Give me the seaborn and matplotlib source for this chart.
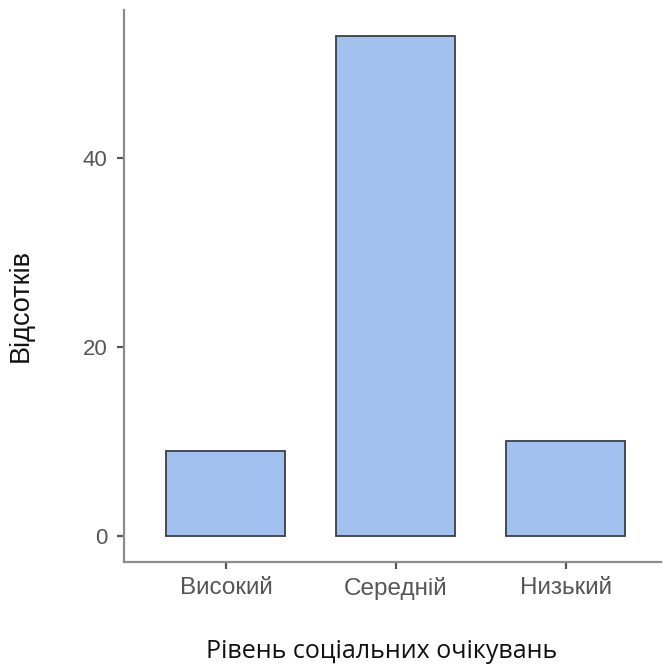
import matplotlib
matplotlib.use("Agg")
import matplotlib.pyplot as plt
import seaborn as sns
import pandas as pd

# --- дані ---
levels = ["Високий", "Середній", "Низький"]
percents = [9.0, 53.0, 10.0]

sns.set_theme(style="ticks")
plt.rcParams['font.family'] = ['Liberation Sans', 'DejaVu Sans']

df = pd.DataFrame({"Рівень": levels, "Відсотків": percents})

fig = plt.figure(figsize=(6.63, 6.68), dpi=100)
ax = fig.add_axes([0.187, 0.159, 0.81, 0.826])

sns.barplot(data=df, x="Рівень", y="Відсотків", ax=ax, color="#a3c1ef",
            saturation=1, width=0.7, edgecolor="#3b3f44", linewidth=1.3)

ax.set_xlim(-0.6, 2.56)
ax.set_ylim(-2.75, 55.7)
ax.set_yticks([0, 20, 40])

for side in ["top", "right"]:
    ax.spines[side].set_visible(False)
for side in ["left", "bottom"]:
    ax.spines[side].set_color("#8c8c8c")
    ax.spines[side].set_linewidth(1.6)

ax.tick_params(axis="both", colors="#555555", length=5, width=1.6)
ax.tick_params(axis="x", pad=6, labelsize=17.5)
ax.tick_params(axis="y", pad=7, labelsize=16)

ax.set_xlabel("Рівень соціальних очікувань", fontsize=18, color="#111111",
              family=["Open Sans", "DejaVu Sans"])
ax.set_ylabel("Відсотків", fontsize=19.5, color="#111111",
              family=["Liberation Sans", "DejaVu Sans"])
ax.xaxis.set_label_coords(0.48, -0.14)
ax.yaxis.set_label_coords(-0.168, 0.464)

fig.savefig("out.png", dpi=100, facecolor="white")
